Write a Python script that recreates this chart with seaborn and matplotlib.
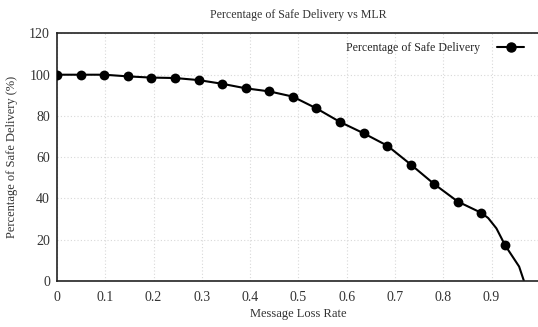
import matplotlib
matplotlib.use("Agg")
import matplotlib.pyplot as plt
import seaborn as sns
import pandas as pd
from matplotlib.lines import Line2D

# Marked data points
mlr = [0.0, 0.049, 0.098, 0.146, 0.195, 0.244, 0.293, 0.342, 0.391, 0.44,
       0.488, 0.537, 0.586, 0.635, 0.684, 0.733, 0.781, 0.83, 0.879, 0.928]
delivery = [100, 100, 100, 99.2, 98.6, 98.4, 97.4, 95.6, 93.4, 91.9,
            89.4, 83.7, 77.1, 71.6, 65.6, 56.4, 47.0, 38.5, 33.0, 17.3]
# Extra (unmarked) points of the curve
curve_mlr = [0.893, 0.91, 0.957, 0.967]
curve_delivery = [30.5, 25.5, 7.0, 0.0]

x_ticks = [0, 0.1, 0.2, 0.3, 0.4, 0.5, 0.6, 0.7, 0.8, 0.9]
x_tick_labels = ["0", "0.1", "0.2", "0.3", "0.4", "0.5", "0.6", "0.7", "0.8", "0.9"]
y_ticks = [0, 20, 40, 60, 80, 100, 120]

series_name = "Percentage of Safe Delivery"

sns.set_theme(style="white")
plt.rcParams["font.family"] = ["Liberation Serif", "DejaVu Serif"]

markers_df = pd.DataFrame({"mlr": mlr, "delivery": delivery})
line_df = pd.DataFrame({"mlr": mlr + curve_mlr, "delivery": delivery + curve_delivery}).sort_values("mlr")

fig = plt.figure(figsize=(5.38, 3.27), dpi=100)
ax = fig.add_axes([0.106, 0.1407, 0.8975, 0.757])

sns.lineplot(data=line_df, x="mlr", y="delivery", ax=ax, color="black",
             linewidth=1.5, sort=False, legend=False)
sns.scatterplot(data=markers_df, x="mlr", y="delivery", ax=ax, color="black",
                s=50, edgecolor="black", linewidth=0, legend=False, zorder=3)

ax.set_xlim(0, 1.0)
ax.set_ylim(0, 120)
ax.set_xticks(x_ticks)
ax.set_xticklabels(x_tick_labels)
ax.set_yticks(y_ticks)
ax.tick_params(axis="both", direction="in", length=4, width=1, colors="#222222",
               labelsize=10, labelcolor="#333333")
ax.tick_params(axis="x", pad=7)
ax.tick_params(axis="y", pad=5)
ax.grid(True, linestyle=(0, (1, 2)), color="#d8d8d8", linewidth=0.8)
for s in ax.spines.values():
    s.set_color("#222222")
    s.set_linewidth(1.2)

ax.set_xlabel("Message Loss Rate", fontsize=9, color="#333333", labelpad=3)
ax.set_ylabel("Percentage of Safe Delivery (%)", fontsize=9, color="#333333", labelpad=8)
ax.set_title("Percentage of Safe Delivery vs MLR", fontsize=8.6, color="#333333", pad=11)

handle = Line2D([], [], color="black", linewidth=1.5, marker="o", markersize=6.5)
ax.legend([handle], [series_name], loc="upper right", frameon=False, fontsize=8.6,
          handlelength=2.3, handletextpad=1.4, borderaxespad=0.3, markerfirst=False,
          bbox_to_anchor=(0.985, 1.0))

fig.savefig("out.png", dpi=100)
